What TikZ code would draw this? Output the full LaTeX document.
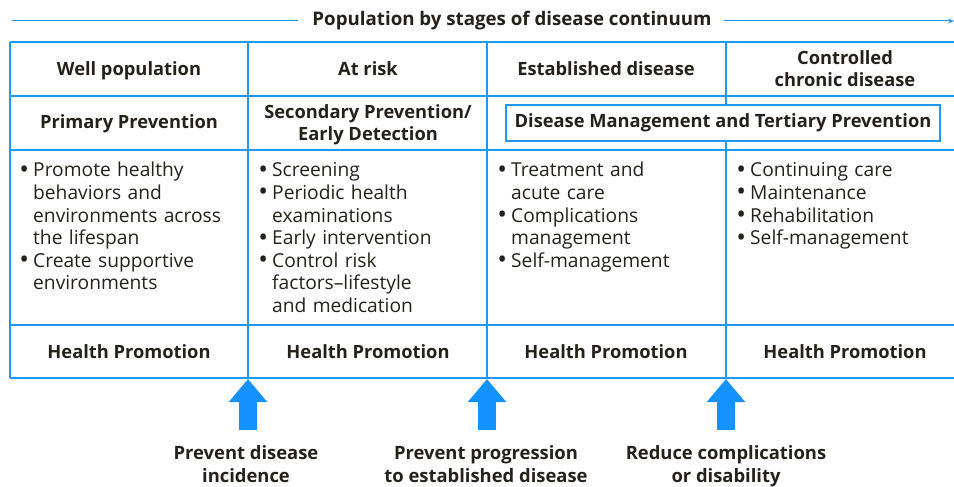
\documentclass[tikz,border=0pt]{standalone}
\usepackage{fontspec}
\setmainfont{Open Sans}
\usetikzlibrary{arrows.meta}
\definecolor{gridblue}{RGB}{33,150,243}
\definecolor{arrowblue}{RGB}{20,146,255}
\definecolor{ink}{RGB}{38,32,26}
% bullet list for the cells
\newenvironment{acts}{\begin{list}{\raisebox{-1.5pt}{\scalebox{1.35}{\textbullet}}}{\leftmargin=15pt\labelwidth=11pt\labelsep=4pt\itemsep=0pt\topsep=0pt\parsep=0pt\partopsep=0pt}\raggedright}{\end{list}}

\begin{document}
\begin{tikzpicture}[x=1pt,y=-1pt,
    head/.style={font=\fontsize{18.3}{22}\selectfont\bfseries,text=ink,align=center,inner sep=0pt},
    items/.style={font=\fontsize{19.2}{22.6}\selectfont,text=ink,text width=225pt,anchor=north west,inner sep=0pt},
    grid/.style={gridblue,line width=1.4pt},
    blockarr/.style={arrowblue,line width=18pt,-{Triangle[length=23pt,width=37pt]}},
    goal/.style={font=\fontsize{18.4}{23}\selectfont\bfseries,text=ink,align=center,inner sep=0pt,anchor=north}]
    \useasboundingbox (0,0) rectangle (954,487);

    % title with the continuum arrow
    \node[head,font=\fontsize{18.7}{22}\selectfont\bfseries] (title) at (512,21) {Population by stages of disease continuum};
    \draw[gridblue,line width=1pt] (12,21) -- ([xshift=-14pt]title.west);
    \draw[gridblue,line width=1pt,-{Stealth[length=6pt,width=5pt]}] ([xshift=12pt]title.east) -- (954,21);

    % table rules
    \foreach \y in {42,96,150,325,378} \draw[grid] (10,\y) -- (954,\y);
    \foreach \x in {10,248,487,726} \draw[grid] (\x,42) -- (\x,378);

    % stages
    \node[head] (well) at (129,71) {Well population};
    \node[head] (risk) at (368,69) {At risk};
    \node[head] (estab) at (606,69) {Established disease};
    \node[head] (chronic) at (845,69) {Controlled\\chronic disease};

    % kind of prevention
    \node[head] (primary) at (129,124) {Primary Prevention};
    \node[head] (secondary) at (368,125) {Secondary Prevention/\\Early Detection};
    \node[head,draw=gridblue,fill=white,line width=1.2pt,minimum width=434pt,minimum height=36pt,text depth=4pt] (tertiary) at (723,123) {Disease Management and Tertiary Prevention};

    % actions
    \node[items] (acts1) at (18,154) {\begin{acts}\item Promote healthy\\behaviors and\\environments across\\the lifespan \item Create supportive\\environments\end{acts}};
    \node[items] (acts2) at (257,154) {\begin{acts}\item Screening \item Periodic health\\examinations \item Early intervention \item Control risk\\factors--lifestyle\\and medication\end{acts}};
    \node[items] (acts3) at (496,154) {\begin{acts}\item Treatment and\\acute care \item Complications\\management \item Self-management\end{acts}};
    \node[items] (acts4) at (735,154) {\begin{acts}\item Continuing care \item Maintenance \item Rehabilitation \item Self-management\end{acts}};

    % health promotion row
    \node[head] (promo1) at (129,352) {Health Promotion};
    \node[head] (promo2) at (368,352) {Health Promotion};
    \node[head] (promo3) at (606,352) {Health Promotion};
    \node[head] (promo4) at (845,352) {Health Promotion};

    % goals and their arrows
    \node[goal] (goal1) at (246,445) {Prevent disease\\incidence};
    \node[goal] (goal2) at (486,445) {Prevent progression\\to established disease};
    \node[goal] (goal3) at (726,445) {Reduce complications\\or disability};
    \coordinate (tip1) at (248,379);
    \coordinate (tip2) at (487,379);
    \coordinate (tip3) at (726,379);
    \draw[blockarr] (248,430) -- (tip1);
    \draw[blockarr] (487,430) -- (tip2);
    \draw[blockarr] (726,430) -- (tip3);
\end{tikzpicture}
\end{document}
